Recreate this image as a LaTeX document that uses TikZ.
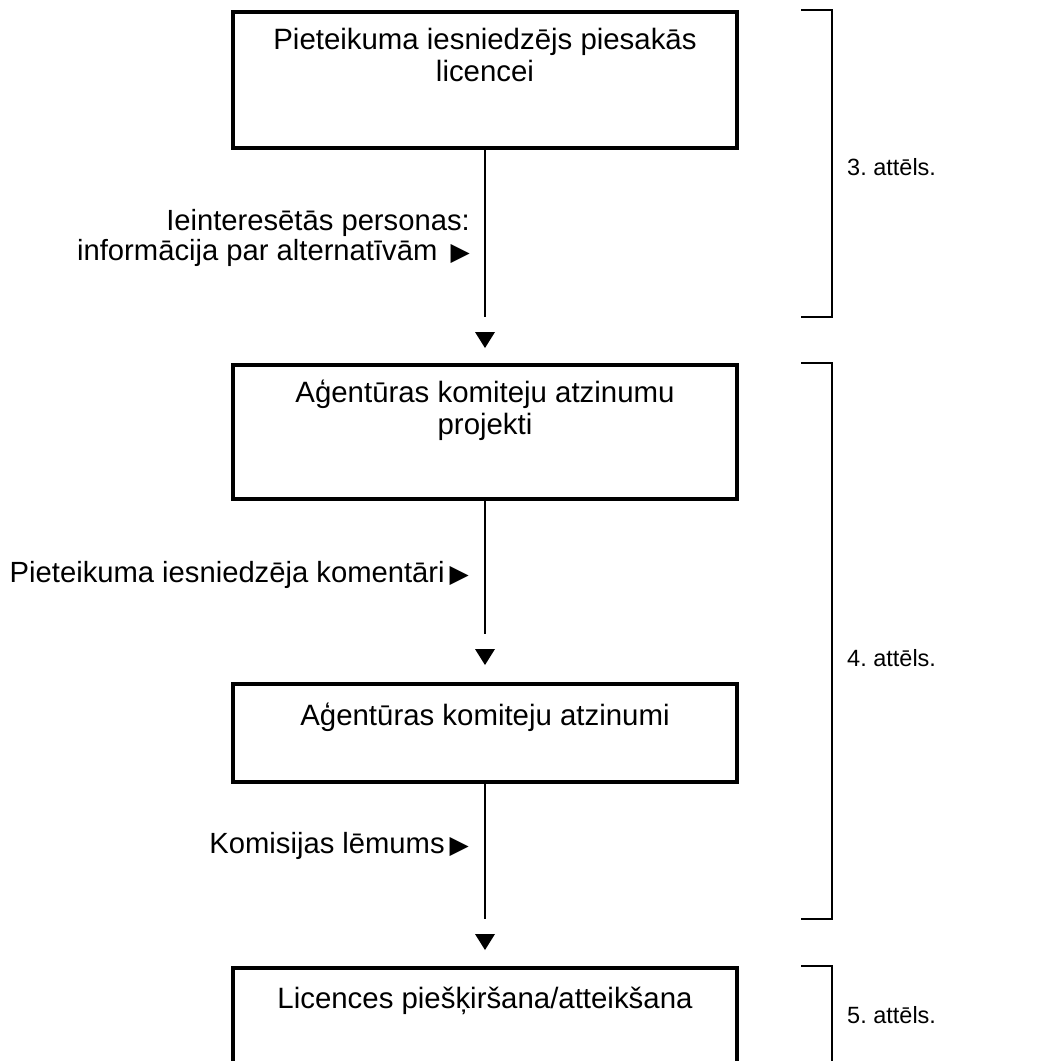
\documentclass[tikz,border=0pt]{standalone}
\usepackage{fontspec}
\setmainfont{Liberation Sans}
\newfontfamily\symfont{DejaVu Sans}
\newcommand{\rtri}{{\symfont\fontsize{25}{25}\selectfont ▶}}
\frenchspacing
\begin{document}
\begin{tikzpicture}[x=1pt,y=-1pt,
  box/.style={draw, line width=3.5pt, minimum width=504pt, inner sep=0pt, anchor=north},
  boxtext/.style={anchor=base, align=center, inner sep=0pt, font=\fontsize{29.4}{32}\selectfont},
  note/.style={anchor=base east, align=right, inner sep=0pt, font=\fontsize{29.2}{30}\selectfont},
  fig/.style={anchor=base west, inner sep=0pt, font=\fontsize{23.5}{26}\selectfont},
  flow/.style={line width=2pt, shorten >=23pt},
  brace/.style={line width=2.2pt},
  tip/.pic={\fill (-10,-8) -- (10,-8) -- (0,8) -- cycle;}
]
\useasboundingbox (0,0) rectangle (1040,1061);

% boxes of the procedure
\node[box, minimum height=136pt] (b1) at (485,10) {};
\node[box, minimum height=134pt] (b2) at (485,363) {};
\node[box, minimum height=98pt]  (b3) at (485,682) {};
\node[box, minimum height=200pt] (b4) at (485,966) {};

% texts (anchored at the baseline of their last line)
\node[boxtext] (t1) at (485,81) {Pieteikuma iesniedzējs piesakās\\licencei};
\node[boxtext] (t2) at (485,434) {Aģentūras komiteju atzinumu\\projekti};
\node[boxtext] (t3) at (485,725) {Aģentūras komiteju atzinumi};
\node[boxtext] (t4) at (485,1008) {Licences piešķiršana/atteikšana};

% detached arrow tips
\coordinate (a1) at (485,340);
\coordinate (a2) at (485,657);
\coordinate (a3) at (485,942);
\pic at (a1) {tip};
\pic at (a2) {tip};
\pic at (a3) {tip};

\draw[flow] (b1.south) -- (a1);
\draw[flow] (b2.south) -- (a2);
\draw[flow] (b3.south) -- (a3);

% inputs along the connectors
\node[note] (n1) at (470,260) {Ieinteresētās personas:\\informācija par alternatīvām\hspace{0.45em}\rtri};
\node[note] (n2) at (469,582) {Pieteikuma iesniedzēja komentāri\,\rtri};
\node[note] (n3) at (469,853) {Komisijas lēmums\,\rtri};

% brackets with figure references
\draw[brace] (801,10) -- (832,10) -- (832,317) -- (801,317);
\draw[brace] (801,363) -- (832,363) -- (832,919) -- (801,919);
\draw[brace] (801,966) -- (832,966) -- (832,1100);

\node[fig] (f3) at (847,175) {3. attēls.};
\node[fig] (f4) at (847,666) {4. attēls.};
\node[fig] (f5) at (847,1023) {5. attēls.};
\end{tikzpicture}
\end{document}
